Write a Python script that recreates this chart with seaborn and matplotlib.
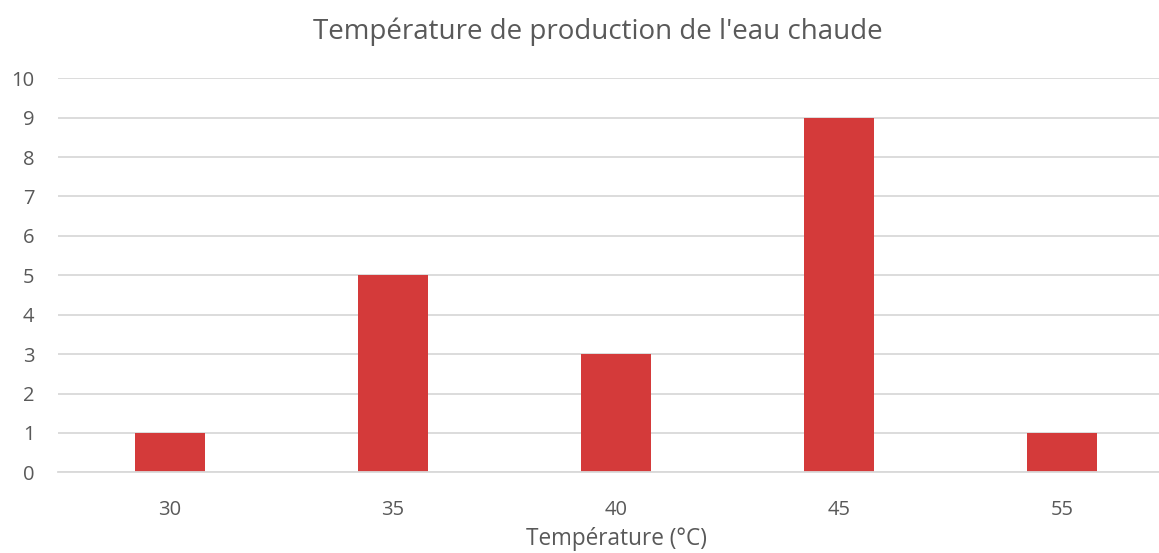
import matplotlib
matplotlib.use("Agg")
import matplotlib.pyplot as plt
import seaborn as sns
import pandas as pd

categories = ["30", "35", "40", "45", "55"]
counts = [1, 5, 3, 9, 1]
yticks = list(range(0, 11))
title = "Température de production de l'eau chaude"
xlabel = "Température (°C)"

sns.set_theme(style="white")
plt.rcParams['font.family'] = ['Open Sans', 'DejaVu Sans']

df = pd.DataFrame({"cat": categories, "val": counts})

W, H = 1159, 553
fig = plt.figure(figsize=(W / 100, H / 100), dpi=100)
left, right, top, bottom = 58, 1173.5, 78.3, 472.3
ax = fig.add_axes([left / W, 1 - bottom / H, (right - left) / W, (bottom - top) / H])

sns.barplot(data=df, x="cat", y="val", ax=ax, color="#D43A3A", width=70 / 223,
            saturation=1, edgecolor="none")

ax.set_ylim(0, 10)
ax.set_yticks(yticks)
ax.set_xlim(-0.5, len(categories) - 0.5)
ax.yaxis.grid(True, color="#D9D9D9", linewidth=1.3)
ax.set_axisbelow(True)
for s in ["top", "right", "left"]:
    ax.spines[s].set_visible(False)
ax.spines["bottom"].set_color("#D9D9D9")
ax.spines["bottom"].set_linewidth(1.3)
ax.tick_params(axis="both", length=0, labelsize=14.5, colors="#595959")
ax.tick_params(axis="y", pad=17)
ax.tick_params(axis="x", pad=20)
ax.set_ylabel("")
ax.set_xlabel("")

fig.text(616 / W, 1 - 545 / H, xlabel, ha="center", va="baseline", fontsize=16.3, color="#595959")
fig.text(598 / W, 1 - 32 / H, title, ha="center", va="center", fontsize=20, color="#595959")

fig.savefig("out.png", dpi=100)
